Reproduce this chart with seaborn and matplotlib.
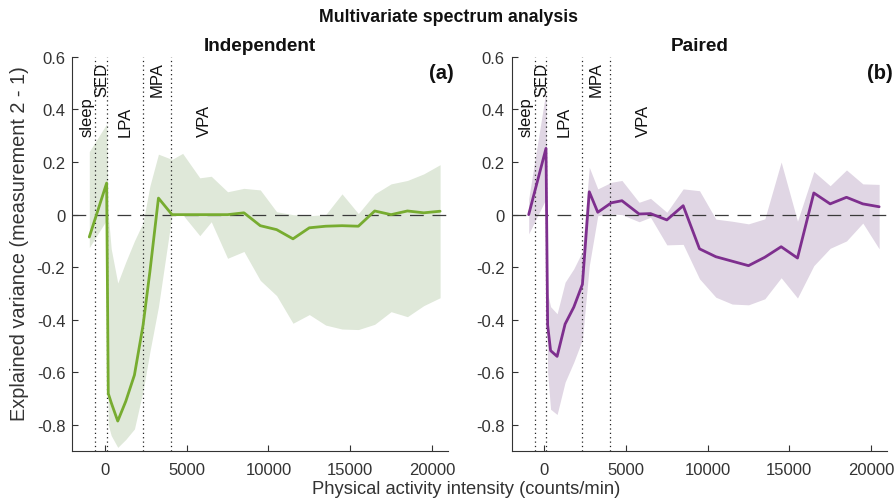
import matplotlib
matplotlib.use("Agg")
import matplotlib.pyplot as plt
import seaborn as sns
import pandas as pd
from matplotlib.ticker import FuncFormatter

# ---------------- data ----------------
intensity = [-960, 100, 200, 380, 780, 1270, 1800, 2330, 2750, 3270, 4100, 4750,
             5800, 6500, 7500, 8500, 9500, 10500, 11500, 12500, 13500, 14500,
             15500, 16500, 17500, 18500, 19500, 20500]

ind_mean = [-0.085, 0.12, -0.68, -0.715, -0.785, -0.71, -0.61, -0.42, -0.215, 0.063,
            0.0, 0.0, 0.0, 0.0, 0.0, 0.007, -0.042, -0.057, -0.092, -0.05, -0.044,
            -0.042, -0.044, 0.014, 0.0, 0.014, 0.007, 0.013]
ind_hi = [0.24, 0.345, 0.0, -0.13, -0.26, -0.18, -0.10, -0.03, 0.11, 0.23, 0.21, 0.233,
          0.14, 0.146, 0.087, 0.10, 0.094, 0.011, 0.0, -0.004, 0.0, 0.079, 0.004,
          0.079, 0.117, 0.13, 0.155, 0.19]
ind_lo = [-0.125, -0.02, -0.80, -0.84, -0.885, -0.855, -0.815, -0.67, -0.52, -0.35,
          0.0, 0.0, -0.08, -0.027, -0.166, -0.14, -0.25, -0.308, -0.413, -0.38, -0.42,
          -0.435, -0.437, -0.417, -0.369, -0.388, -0.346, -0.316]

pair_mean = [0.0, 0.252, -0.42, -0.517, -0.539, -0.416, -0.352, -0.265, 0.087, 0.009,
             0.045, 0.053, 0.0025, 0.004, -0.02, 0.034, -0.13, -0.16, -0.177, -0.194,
             -0.162, -0.122, -0.165, 0.0825, 0.041, 0.066, 0.041, 0.03]
pair_hi = [0.06, 0.47, -0.30, -0.35, -0.377, -0.257, -0.206, -0.14, 0.18, 0.098, 0.123,
           0.13, 0.047, 0.062, 0.009, 0.098, 0.091, -0.017, -0.025, -0.035, -0.016,
           0.2, -0.025, 0.164, 0.11, 0.17, 0.117, 0.115]
pair_lo = [-0.073, 0.06, -0.60, -0.74, -0.76, -0.637, -0.561, -0.475, -0.194, -0.004,
           0.003, 0.0, -0.027, -0.01, -0.115, -0.113, -0.244, -0.314, -0.34, -0.343,
           -0.32, -0.24, -0.317, -0.194, -0.128, -0.1, -0.032, -0.13]

cutpoints = [-590, 100, 2330, 4030]
zone_names = ["sleep", "SED", "LPA", "MPA", "VPA"]
panel_titles = ["Independent", "Paired"]
panel_tags = ["(a)", "(b)"]
x_ticks = [0, 5000, 10000, 15000, 20000]
y_ticks = [-0.8, -0.6, -0.4, -0.2, 0, 0.2, 0.4, 0.6]

# ---------------- style ----------------
sns.set_theme(style="ticks")
plt.rcParams["font.family"] = ["Liberation Sans", "DejaVu Sans"]
plt.rcParams["axes.unicode_minus"] = False
TXT = "#333333"

fig = plt.figure(figsize=(8.96, 5.02), dpi=100)
ax_l = fig.add_axes([0.0807, 0.099, 0.4196, 0.7857])
ax_r = fig.add_axes([0.5711, 0.099, 0.4192, 0.7857])

panels = [
    (ax_l, ind_mean, ind_lo, ind_hi, "#77AC30", "#dfe8d9"),
    (ax_r, pair_mean, pair_lo, pair_hi, "#7E2F8E", "#e0d6e4"),
]

# zone label positions (layout only)
zone_x = [-1100, -170, 1220, 3200, 6060]
zone_y = [0.30, 0.45, 0.30, 0.45, 0.30]

for i, (ax, mean, lo, hi, col, fcol) in enumerate(panels):
    df = pd.DataFrame({"x": intensity, "y": mean, "lo": lo, "hi": hi})
    ax.fill_between(df["x"], df["lo"], df["hi"], color=fcol, linewidth=0, zorder=1)
    sns.lineplot(data=df, x="x", y="y", ax=ax, color=col, linewidth=2.0,
                 zorder=4, sort=False)
    ax.axhline(0, color="#3a3a3a", linestyle=(0, (11, 7)), linewidth=0.9, zorder=3)
    for c in cutpoints:
        ax.axvline(c, color="#222222", linestyle=(0, (1, 2.5)), linewidth=0.9, zorder=3)
    for name, zx, zy in zip(zone_names, zone_x, zone_y):
        ax.text(zx, zy, name, rotation=90, ha="center", va="bottom",
                fontsize=12, color="#111111", zorder=5)
    ax.set_xlim(-2000, 21000)
    ax.set_ylim(-0.9, 0.6)
    ax.set_xticks(x_ticks)
    ax.set_yticks(y_ticks)
    ax.yaxis.set_major_formatter(FuncFormatter(lambda v, p: "0" if abs(v) < 1e-9 else f"{v:g}"))
    ax.tick_params(direction="in", length=4, width=0.8, colors=TXT, labelsize=12,
                   labelcolor=TXT, pad=5)
    ax.tick_params(axis="x", pad=8)
    for s in ["top", "right"]:
        ax.spines[s].set_visible(False)
    for s in ["left", "bottom"]:
        ax.spines[s].set_color(TXT)
        ax.spines[s].set_linewidth(0.8)
    ax.set_xlabel("")
    ax.set_ylabel("")
    ax.set_title(panel_titles[i], fontsize=13.7, fontweight="bold", color="#111111", pad=5)
    ax.text(1.015, 0.961, panel_tags[i], transform=ax.transAxes, ha="right",
            va="center", fontsize=14.5, fontweight="bold", color="#111111")

fig.text(0.5, 0.966, "Multivariate spectrum analysis", ha="center", va="center",
         fontsize=12.8, fontweight="bold", color="#111111")
fig.text(0.52, 0.024, "Physical activity intensity (counts/min)", ha="center",
         va="center", fontsize=13.2, color=TXT)
fig.text(0.022, 0.515, "Explained variance (measurement 2 - 1)", ha="center",
         va="center", rotation=90, fontsize=14.3, color=TXT)

fig.savefig("out.png", dpi=100)
